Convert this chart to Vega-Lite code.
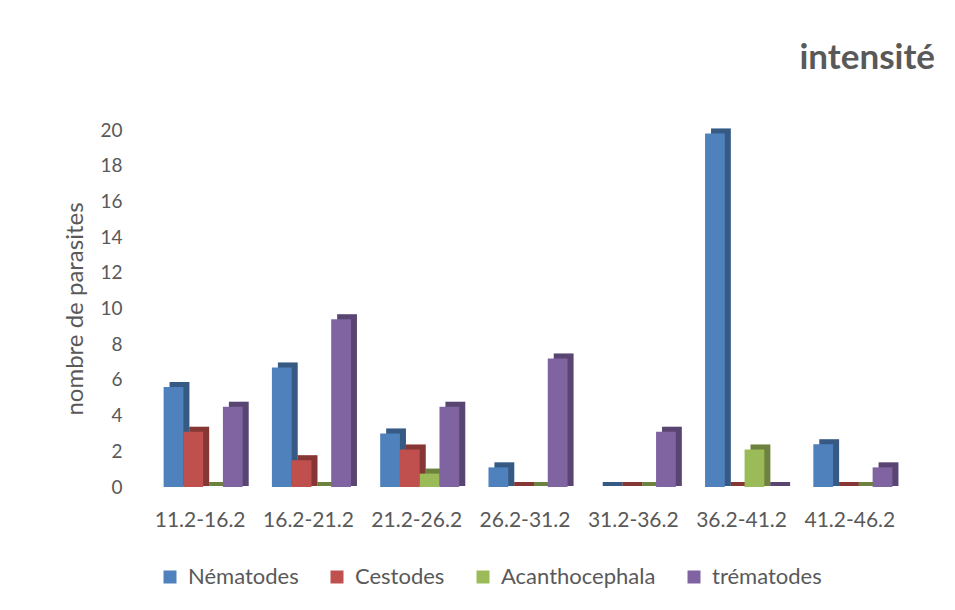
{
  "$schema": "https://vega.github.io/schema/vega-lite/v6.json",
  "width": 758,
  "height": 357,
  "autosize": "none",
  "padding": {"left": 149, "top": 130, "right": 48, "bottom": 123},
  "background": "white",
  "config": {"view": {"stroke": null}},
  "title": {
    "text": "intensité",
    "anchor": "end",
    "font": "Lato",
    "fontSize": 35,
    "fontWeight": "bold",
    "color": "#595959",
    "baseline": "alphabetic",
    "dx": 28,
    "offset": 17
  },
  "data": {
    "values": [
      {"classe": "11.2-16.2", "groupe": "Nématodes", "valeur": 5.6},
      {"classe": "11.2-16.2", "groupe": "Cestodes", "valeur": 3.1},
      {"classe": "11.2-16.2", "groupe": "Acanthocephala", "valeur": 0},
      {"classe": "11.2-16.2", "groupe": "trématodes", "valeur": 4.5},
      {"classe": "16.2-21.2", "groupe": "Nématodes", "valeur": 6.7},
      {"classe": "16.2-21.2", "groupe": "Cestodes", "valeur": 1.5},
      {"classe": "16.2-21.2", "groupe": "Acanthocephala", "valeur": 0},
      {"classe": "16.2-21.2", "groupe": "trématodes", "valeur": 9.4},
      {"classe": "21.2-26.2", "groupe": "Nématodes", "valeur": 3.0},
      {"classe": "21.2-26.2", "groupe": "Cestodes", "valeur": 2.1},
      {"classe": "21.2-26.2", "groupe": "Acanthocephala", "valeur": 0.75},
      {"classe": "21.2-26.2", "groupe": "trématodes", "valeur": 4.5},
      {"classe": "26.2-31.2", "groupe": "Nématodes", "valeur": 1.1},
      {"classe": "26.2-31.2", "groupe": "Cestodes", "valeur": 0},
      {"classe": "26.2-31.2", "groupe": "Acanthocephala", "valeur": 0},
      {"classe": "26.2-31.2", "groupe": "trématodes", "valeur": 7.2},
      {"classe": "31.2-36.2", "groupe": "Nématodes", "valeur": 0},
      {"classe": "31.2-36.2", "groupe": "Cestodes", "valeur": 0},
      {"classe": "31.2-36.2", "groupe": "Acanthocephala", "valeur": 0},
      {"classe": "31.2-36.2", "groupe": "trématodes", "valeur": 3.1},
      {"classe": "36.2-41.2", "groupe": "Nématodes", "valeur": 19.8},
      {"classe": "36.2-41.2", "groupe": "Cestodes", "valeur": 0},
      {"classe": "36.2-41.2", "groupe": "Acanthocephala", "valeur": 2.1},
      {"classe": "36.2-41.2", "groupe": "trématodes", "valeur": 0},
      {"classe": "41.2-46.2", "groupe": "Nématodes", "valeur": 2.4},
      {"classe": "41.2-46.2", "groupe": "Cestodes", "valeur": 0},
      {"classe": "41.2-46.2", "groupe": "Acanthocephala", "valeur": 0},
      {"classe": "41.2-46.2", "groupe": "trématodes", "valeur": 1.1}
    ]
  },
  "encoding": {
    "x": {
      "field": "classe",
      "type": "nominal",
      "sort": null,
      "scale": {"paddingInner": 0.27, "paddingOuter": 0.135},
      "axis": {
        "title": null,
        "labelAngle": 0,
        "labelFont": "Lato",
        "labelFontSize": 21,
        "labelColor": "#595959",
        "labelPadding": 22,
        "labelOffset": -3,
        "ticks": false,
        "domain": false,
        "grid": false
      }
    },
    "y": {
      "field": "valeur",
      "type": "quantitative",
      "stack": null,
      "scale": {"domain": [0, 20], "nice": false},
      "axis": {
        "title": "nombre de parasites",
        "titleFont": "Lato",
        "titleFontSize": 24,
        "titleFontWeight": "normal",
        "titleColor": "#595959",
        "titlePadding": 12,
        "labelFont": "Lato",
        "labelFontSize": 19,
        "labelColor": "#595959",
        "labelPadding": 27,
        "values": [0, 2, 4, 6, 8, 10, 12, 14, 16, 18, 20],
        "ticks": false,
        "domain": false,
        "grid": false
      }
    }
  },
  "resolve": {"scale": {"xOffset": "independent"}},
  "layer": [
    {
      "mark": {"type": "bar", "yOffset": -5, "y2Offset": -1},
      "encoding": {
        "y2": {"datum": 0},
        "xOffset": {
          "field": "groupe",
          "type": "nominal",
          "sort": ["Nématodes", "Cestodes", "Acanthocephala", "trématodes"],
          "scale": {"paddingInner": 0, "paddingOuter": 0, "range": [6, 85.05]}
        },
        "color": {
          "field": "groupe",
          "type": "nominal",
          "scale": {
            "domain": ["Nématodes", "Cestodes", "Acanthocephala", "trématodes"],
            "range": ["#4F81BD", "#C0504D", "#9BBB59", "#8064A2"]
          },
          "legend": {
            "orient": "none",
            "legendX": 10,
            "legendY": 436,
            "direction": "horizontal",
            "title": null,
            "symbolType": "square",
            "symbolSize": 169,
            "symbolStrokeWidth": 0,
            "labelFont": "Lato",
            "labelFontSize": 22,
            "labelColor": "#595959",
            "labelOffset": 7,
            "columnPadding": 27,
            "labelLimit": 300
          }
        }
      }
    },
    {
      "mark": {"type": "bar", "yOffset": -5, "y2Offset": -1, "fill": "#000000", "opacity": 0.3},
      "encoding": {
        "y2": {"datum": 0},
        "xOffset": {
          "field": "groupe",
          "type": "nominal",
          "sort": ["Nématodes", "Cestodes", "Acanthocephala", "trématodes"],
          "scale": {"paddingInner": 0, "paddingOuter": 0, "range": [6, 85.05]}
        }
      }
    },
    {
      "mark": {"type": "bar"},
      "encoding": {
        "xOffset": {
          "field": "groupe",
          "type": "nominal",
          "sort": ["Nématodes", "Cestodes", "Acanthocephala", "trématodes"],
          "scale": {"paddingInner": 0, "paddingOuter": 0, "range": [0, 79.05]}
        },
        "color": {"field": "groupe", "type": "nominal"}
      }
    }
  ]
}
